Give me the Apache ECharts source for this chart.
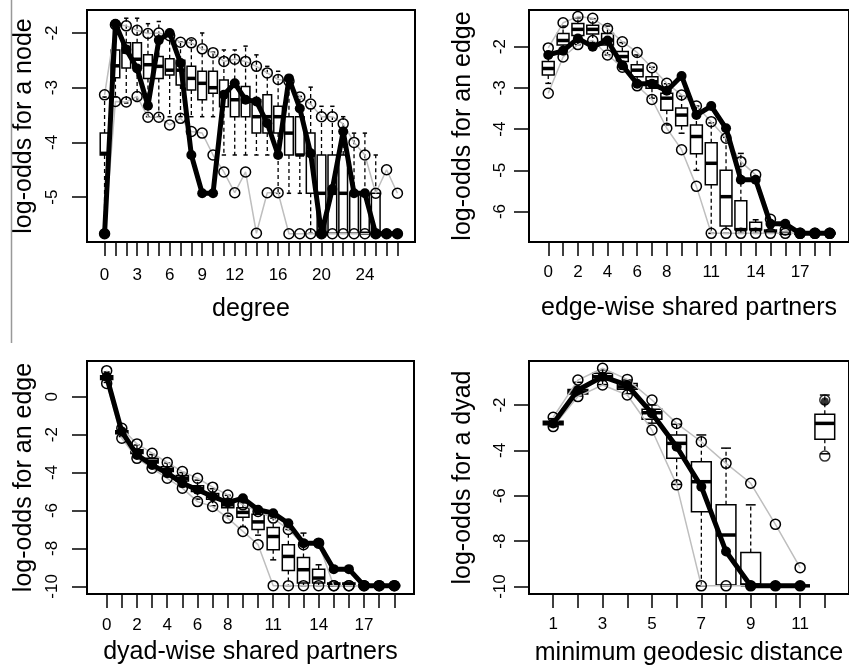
<!DOCTYPE html>
<html>
<head>
<meta charset="utf-8">
<script src="https://cdn.jsdelivr.net/npm/echarts@6/dist/echarts.min.js"></script>
<style>html,body{margin:0;padding:0;background:#fff}#c{width:849px;height:671px}</style>
</head>
<body>
<div id="c"></div>
<script>
// ---------- Panel 1: degree ----------
const cat1 = [0,1,2,3,4,5,6,7,8,9,10,11,12,13,14,15,16,17,18,19,20,21,22,23,24,25,26,27];
const obs1 = [-5.67,-1.83,-2.3,-2.65,-3.33,-2.13,-2.0,-2.55,-4.23,-4.93,-4.93,-3.13,-2.92,-3.22,-3.25,-3.65,-4.23,-2.83,-3.38,-4.2,-5.67,-4.85,-3.8,-4.93,-4.93,-5.67,-5.67,-5.67];
const upper1 = [-3.13,-1.85,-1.87,-1.95,-2.01,-2.0,-2.05,-2.17,-2.18,-2.29,-2.36,-2.52,-2.48,-2.52,-2.61,-2.73,-2.85,-2.88,-3.17,-3.3,-3.53,-3.53,-3.66,-4.0,-4.23,-4.93,-4.5,-4.93];
const lower1 = [-5.67,-3.25,-3.26,-3.16,-3.54,-3.54,-3.68,-3.56,-3.8,-3.83,-4.23,-4.54,-4.92,-4.54,-5.66,-4.92,-4.92,-5.67,-5.67,-5.67,-5.67,-5.67,-5.67,-5.67,-5.67,-5.67,-5.67,-5.67];
// [lower whisker, Q1, median, Q3, upper whisker]
const box1 = [
 [-5.66,-4.23,-4.2,-3.83,-3.17],[-3.17,-2.82,-2.6,-2.31,-1.9],[-3.28,-2.64,-2.35,-2.18,-1.73],[-3.25,-2.64,-2.48,-2.18,-1.73],
 [-3.53,-2.83,-2.58,-2.4,-1.83],[-3.53,-2.83,-2.61,-2.43,-1.79],[-3.53,-2.77,-2.68,-2.47,-1.98],[-3.53,-2.95,-2.68,-2.5,-2.16],
 [-3.53,-3.04,-2.83,-2.61,-2.13],[-3.53,-3.22,-2.92,-2.7,-2.0],[-3.53,-3.1,-3.0,-2.7,-2.35],[-4.23,-3.35,-3.1,-2.86,-2.31],
 [-4.23,-3.53,-3.22,-2.98,-2.31],[-4.23,-3.53,-3.22,-2.98,-2.24],[-4.23,-3.83,-3.53,-3.22,-2.4],[-4.23,-3.83,-3.53,-3.13,-2.61],
 [-4.93,-3.83,-3.53,-3.34,-2.7],[-4.93,-4.23,-3.83,-3.53,-2.89],[-4.93,-4.23,-4.23,-3.53,-3.16],[-5.66,-4.93,-4.23,-3.83,-2.99],
 [-5.66,-5.66,-4.93,-4.23,-3.34],[-5.66,-5.66,-4.93,-4.23,-3.34],[-5.66,-5.66,-4.93,-4.23,-3.53],[-5.66,-5.66,-4.93,-4.93,-3.83],
 [-5.66,-5.66,-5.66,-4.93,-3.83],[-5.66,-5.66,-5.66,-4.93,-4.23],[-5.66,-5.66,-5.66,-5.66,-5.66],[-5.66,-5.66,-5.66,-5.66,-5.66]
];
const xLab1 = [0,3,6,9,12,16,20,24];
const yTick1 = [-5,-4,-3,-2];

// ---------- Panel 2: edge-wise shared partners ----------
const cat2 = [0,1,2,3,4,5,6,7,8,9,10,11,12,13,14,15,16,17,18,19];
const obs2 = [-2.2,-2.1,-1.8,-2.0,-1.85,-2.45,-2.9,-2.9,-3.07,-2.71,-3.66,-3.44,-3.98,-5.23,-5.23,-6.3,-6.3,-6.53,-6.53,-6.53];
const upper2 = [-2.03,-1.42,-1.27,-1.31,-1.56,-1.88,-2.14,-2.51,-2.89,-3.17,-3.44,-3.82,-4.22,-4.79,-5.11,-6.19,-6.45,-6.53,-6.53,-6.53];
const lower2 = [-3.13,-2.25,-1.95,-1.85,-2.2,-2.5,-2.95,-3.28,-3.98,-4.5,-5.39,-6.53,-6.53,-6.53,-6.53,-6.53,-6.53,-6.53,-6.53,-6.53];
const box2 = [
 [-2.89,-2.69,-2.53,-2.36,-2.24],[-2.1,-1.96,-1.85,-1.68,-1.5],[-1.95,-1.73,-1.58,-1.44,-1.3],[-1.9,-1.69,-1.58,-1.48,-1.32],
 [-2.2,-1.96,-1.84,-1.68,-1.5],[-2.55,-2.36,-2.24,-2.12,-1.9],[-2.95,-2.73,-2.57,-2.44,-2.2],[-3.25,-3.01,-2.85,-2.73,-2.5],
 [-3.9,-3.54,-3.25,-3.13,-2.9],[-4.1,-3.92,-3.66,-3.49,-3.2],[-5.0,-4.6,-4.18,-3.9,-3.44],[-6.53,-5.35,-4.83,-4.33,-3.85],
 [-6.53,-6.35,-5.64,-5.0,-4.2],[-6.53,-6.44,-6.44,-5.74,-4.59],[-6.53,-6.44,-6.44,-6.26,-6.2],[-6.53,-6.53,-6.5,-6.45,-6.45],
 [-6.53,-6.53,-6.53,-6.53,-6.53],[-6.53,-6.53,-6.53,-6.53,-6.53],[-6.53,-6.53,-6.53,-6.53,-6.53],[-6.53,-6.53,-6.53,-6.53,-6.53]
];
const xLab2 = [0,2,4,6,8,11,14,17];
const yTick2 = [-6,-5,-4,-3,-2];

// ---------- Panel 3: dyad-wise shared partners ----------
const cat3 = [0,1,2,3,4,5,6,7,8,9,10,11,12,13,14,15,16,17,18,19];
const obs3 = [1.05,-1.84,-3.07,-3.6,-4.03,-4.56,-4.91,-5.26,-5.58,-5.35,-5.96,-6.14,-6.67,-7.72,-7.72,-9.09,-9.09,-9.96,-9.96,-9.96];
const upper3 = [1.37,-1.67,-2.49,-2.98,-3.47,-3.95,-4.3,-4.77,-5.18,-5.7,-6.05,-6.4,-7.0,-7.8,-7.72,-9.96,-9.96,-9.96,-9.96,-9.96];
const lower3 = [0.7,-2.19,-3.25,-3.77,-4.3,-4.82,-5.53,-5.79,-6.4,-7.1,-7.8,-9.96,-9.96,-9.96,-9.96,-9.96,-9.96,-9.96,-9.96,-9.96];
const box3 = [
 [0.75,0.9,1.0,1.1,1.3],[-2.1,-1.95,-1.88,-1.8,-1.7],[-3.2,-3.0,-2.9,-2.8,-2.55],[-3.7,-3.5,-3.4,-3.25,-3.05],
 [-4.2,-3.95,-3.85,-3.7,-3.5],[-4.75,-4.45,-4.3,-4.15,-4.0],[-5.4,-5.0,-4.85,-4.7,-4.4],[-5.75,-5.4,-5.25,-5.1,-4.85],
 [-6.3,-5.85,-5.7,-5.4,-5.2],[-6.84,-6.35,-6.1,-5.85,-5.6],[-7.3,-7.0,-6.6,-6.2,-5.95],[-8.6,-8.07,-7.37,-6.9,-6.4],
 [-9.96,-9.16,-8.42,-7.8,-7.0],[-9.96,-9.82,-9.12,-8.47,-7.19],[-9.96,-9.82,-9.56,-9.09,-8.86],[-9.96,-9.96,-9.9,-9.82,-9.82],
 [-9.96,-9.96,-9.9,-9.82,-9.82],[-9.96,-9.96,-9.96,-9.96,-9.96],[-9.96,-9.96,-9.96,-9.96,-9.96],[-9.96,-9.96,-9.96,-9.96,-9.96]
];
const xLab3 = [0,2,4,6,8,11,14,17];
const yTick3 = [-10,-8,-6,-4,-2,0];

// ---------- Panel 4: minimum geodesic distance ----------
const cat4 = [1,2,3,4,5,6,7,8,9,10,11];
const obs4 = [-2.81,-1.34,-0.75,-1.12,-2.37,-3.84,-5.6,-8.46,-9.97,-9.97,-9.97];
const upper4 = [-2.54,-0.9,-0.38,-0.87,-1.78,-2.81,-3.62,-4.57,-5.45,-7.26,-9.17];
const lower4 = [-2.95,-1.63,-1.12,-1.56,-3.1,-5.52,-9.97,-9.97,-9.97,-9.97,-9.97];
const box4 = [
 [-2.95,-2.87,-2.8,-2.72,-2.6],[-1.6,-1.52,-1.42,-1.32,-1.0],[-1.1,-0.9,-0.75,-0.6,-0.45],[-1.5,-1.3,-1.2,-1.05,-0.9],
 [-2.8,-2.63,-2.34,-2.19,-2.0],[-5.5,-4.35,-3.69,-3.32,-2.85],[-9.97,-6.7,-5.38,-4.5,-3.32],[-9.97,-9.93,-7.73,-6.4,-3.9],
 [-9.97,-9.93,-9.93,-8.5,-6.4],[-9.97,-9.97,-9.97,-9.97,-9.97],[-9.97,-9.97,-9.97,-9.97,-9.97]
];
// separate "Inf" category
const catInf = 12;
const boxInf = [-4.15,-3.51,-2.81,-2.41,-1.56];
const upperInf = -1.78;
const lowerInf = -4.25;
const obsInf = -1.85;
const xTick4 = [1,2,3,4,5,6,7,8,9,10,11,12];
const xLab4 = [1,3,5,7,9,11];
const yTick4 = [-10,-8,-6,-4,-2];

// ---------- build ----------
const FONT = "'Liberation Sans', Arial, Helvetica, sans-serif";

function boxRender(params, api) {
  const x = api.value(0);
  const lo = api.coord([x, api.value(1)]);
  const q1 = api.coord([x, api.value(2)]);
  const md = api.coord([x, api.value(3)]);
  const q3 = api.coord([x, api.value(4)]);
  const hi = api.coord([x, api.value(5)]);
  const w = api.size([0.8, 0])[0];
  const cx = md[0];
  const cap = w / 4;
  const dash = {stroke:'#000', lineWidth:1.3, lineDash:[4,3]};
  const solid = {stroke:'#000', lineWidth:1.5};
  return {type:'group', children:[
    {type:'line', shape:{x1:cx,y1:q3[1],x2:cx,y2:hi[1]}, style:dash},
    {type:'line', shape:{x1:cx,y1:q1[1],x2:cx,y2:lo[1]}, style:dash},
    {type:'line', shape:{x1:cx-cap,y1:hi[1],x2:cx+cap,y2:hi[1]}, style:solid},
    {type:'line', shape:{x1:cx-cap,y1:lo[1],x2:cx+cap,y2:lo[1]}, style:solid},
    {type:'rect', shape:{x:cx-w/2,y:q3[1],width:w,height:q1[1]-q3[1]}, style:{fill:'#fff',stroke:'#000',lineWidth:1.5}},
    {type:'line', shape:{x1:cx-w/2,y1:md[1],x2:cx+w/2,y2:md[1]}, style:{stroke:'#000',lineWidth:3.5}}
  ]};
}

const grids = [
  {left:87, top:10, width:328, height:232},
  {left:529, top:10, width:328, height:232},
  {left:87, top:361, width:327, height:233},
  {left:529, top:361, width:330, height:233}
].map(g => Object.assign({show:true, borderColor:'#000', borderWidth:2, backgroundColor:'transparent', containLabel:false}, g));

function xAx(i, min, max, ticks, labels, name, margin, gap) {
  return {type:'value', gridIndex:i, min:min, max:max, position:'bottom',
    axisLine:{show:false, onZero:false}, splitLine:{show:false},
    axisTick:{show:true, customValues:ticks, length:14, lineStyle:{color:'#000', width:1.5}},
    axisLabel:{customValues:labels, fontSize:17, color:'#000', fontFamily:FONT, margin:margin},
    name:name, nameLocation:'middle', nameGap:gap,
    nameTextStyle:{fontSize:25, color:'#000', fontFamily:FONT}};
}
function yAx(i, min, max, ticks, name, margin, gap) {
  return {type:'value', gridIndex:i, min:min, max:max, position:'left',
    axisLine:{show:false, onZero:false}, splitLine:{show:false},
    axisTick:{show:true, customValues:ticks, length:15, lineStyle:{color:'#000', width:1.5}},
    axisLabel:{customValues:ticks, fontSize:17, color:'#000', fontFamily:FONT, rotate:90, margin:margin},
    name:name, nameLocation:'middle', nameGap:gap, nameRotate:90,
    nameTextStyle:{fontSize:25, color:'#000', fontFamily:FONT}};
}

const range = n => Array.from({length:n}, (_, k) => k);

const xAxes = [
  xAx(0, -1.62, 28.62, range(28), xLab1, 'degree', 25, 55),
  xAx(1, -1.3, 20.3, range(20), xLab2, 'edge-wise shared partners', 22, 54),
  xAx(2, -1.3, 20.3, range(20), xLab3, 'dyad-wise shared partners', 23, 46),
  xAx(3, 0.02, 12.98, xTick4, xLab4, 'minimum geodesic distance', 22, 47)
];
const yAxes = [
  yAx(0, -5.82, -1.58, yTick1, 'log-odds for a node', 26, 50),
  yAx(1, -6.74, -1.11, yTick2, 'log-odds for an edge', 20, 53),
  yAx(2, -10.4, 1.88, yTick3, 'log-odds for an edge', 26, 50),
  yAx(3, -10.33, -0.06, yTick4, 'log-odds for a dyad', 20, 53)
];

function boxSeries(i, cats, boxes) {
  return {type:'custom', xAxisIndex:i, yAxisIndex:i, z:2, silent:true,
    renderItem:boxRender, encode:{x:0, y:[1,2,3,4,5]},
    data: boxes.map((b, k) => [cats[k]].concat(b))};
}
function grayLine(i, cats, vals) {
  return {type:'line', xAxisIndex:i, yAxisIndex:i, z:3, silent:true, showAllSymbol:true,
    data: cats.map((c, k) => [c, vals[k]]),
    symbol:'circle', symbolSize:10,
    itemStyle:{color:'rgba(0,0,0,0)', borderColor:'#000', borderWidth:1.5},
    lineStyle:{color:'#bebebe', width:1.5}, emphasis:{disabled:true}};
}
function obsLine(i, cats, vals) {
  return {type:'line', xAxisIndex:i, yAxisIndex:i, z:4, silent:true, showAllSymbol:true,
    data: cats.map((c, k) => [c, vals[k]]),
    symbol:'circle', symbolSize:10,
    itemStyle:{color:'#000'}, lineStyle:{color:'#000', width:5}, emphasis:{disabled:true}};
}

const series = [
  boxSeries(0, cat1, box1), grayLine(0, cat1, upper1), grayLine(0, cat1, lower1), obsLine(0, cat1, obs1),
  boxSeries(1, cat2, box2), grayLine(1, cat2, upper2), grayLine(1, cat2, lower2), obsLine(1, cat2, obs2),
  boxSeries(2, cat3, box3), grayLine(2, cat3, upper3), grayLine(2, cat3, lower3), obsLine(2, cat3, obs3),
  boxSeries(3, cat4, box4), grayLine(3, cat4, upper4), grayLine(3, cat4, lower4), obsLine(3, cat4, obs4),
  boxSeries(3, [catInf], [boxInf]),
  {type:'scatter', xAxisIndex:3, yAxisIndex:3, z:3, silent:true, symbol:'circle', symbolSize:10,
   data:[[catInf, upperInf],[catInf, lowerInf]],
   itemStyle:{color:'rgba(0,0,0,0)', borderColor:'#000', borderWidth:1.5}},
  {type:'scatter', xAxisIndex:3, yAxisIndex:3, z:4, silent:true, symbol:'circle', symbolSize:8,
   data:[[catInf, obsInf]], itemStyle:{color:'#000'}}
];

const chart = echarts.init(document.getElementById('c'), null, {renderer:'canvas'});
chart.setOption({
  animation:false,
  backgroundColor:'#fff',
  grid:grids, xAxis:xAxes, yAxis:yAxes, series:series,
  graphic:[{type:'line', shape:{x1:11.5, y1:0, x2:11.5, y2:343}, style:{stroke:'#999', lineWidth:1.5}, z:100}]
});
</script>
</body>
</html>
